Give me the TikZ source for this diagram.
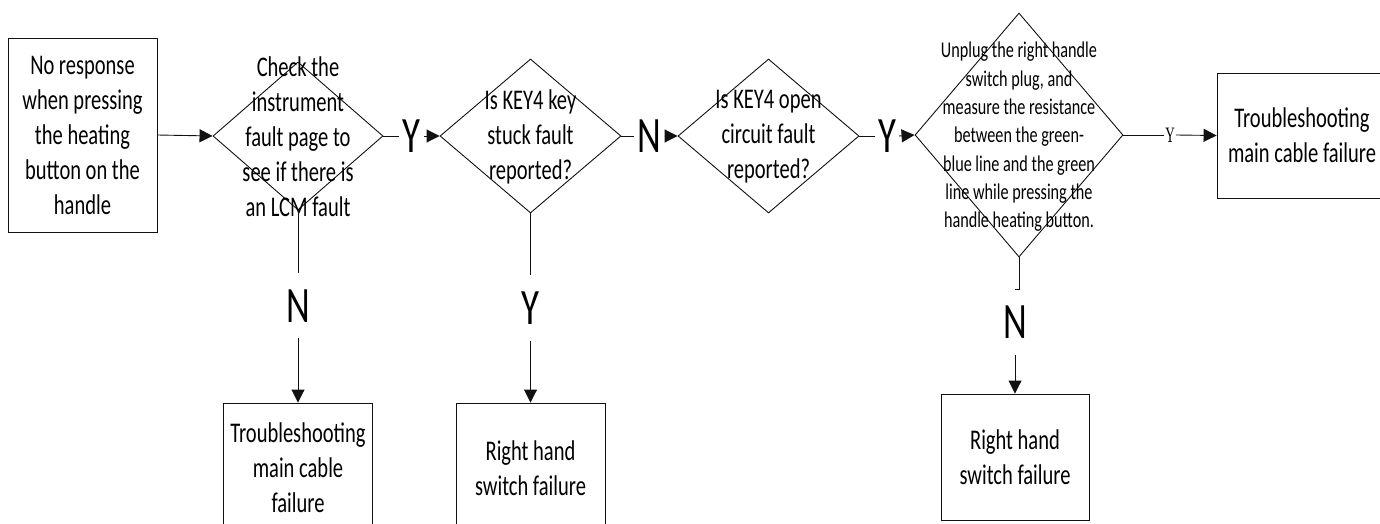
\documentclass[tikz,border=0pt]{standalone}
\usepackage{fontspec}
\usepackage{tikz}
\usetikzlibrary{arrows.meta,shapes.geometric}
\newfontfamily\flowfont{Carlito}[FakeStretch=0.72]
\newfontfamily\flowserif{Liberation Serif}[FakeStretch=0.6]
\definecolor{flowink}{HTML}{111111}
\tikzset{
  flow box/.style={draw=flowink,line width=.9pt,inner sep=2pt,align=center,font=\flowfont\fontsize{28.5}{35}\selectfont},
  flow decision/.style={diamond,draw=flowink,line width=.9pt,inner sep=0pt},
  flow text/.style={align=center,inner sep=0pt,font=\flowfont\fontsize{28.5}{35}\selectfont},
  flow note/.style={align=center,inner sep=0pt,font=\flowfont\fontsize{22.5}{28.3}\selectfont},
  flow tag/.style={inner xsep=3pt,inner ysep=0pt,text height=49pt,text depth=16pt,font=\flowfont\fontsize{51}{51}\selectfont},
  flow small tag/.style={inner xsep=1pt,inner ysep=0pt,font=\flowserif\fontsize{22}{22}\selectfont},
  flow line/.style={draw=flowink,line width=.9pt},
  flow arrow/.style={flow line,-{Triangle[length=13pt,width=13pt]}}
}

\begin{document}
\begin{tikzpicture}[x=1pt,y=-1pt]
  \useasboundingbox (0,0) rectangle (1380,524);
  \node[flow box,minimum width=149pt,minimum height=194pt] (start) at (82.5,135) {No response\\when pressing\\the heating\\button on the\\handle};
  \node[flow decision,minimum width=170pt,minimum height=148pt] (d1) at (298,136) {};
  \node[flow text] (d1t) at (298,137) {Check the\\instrument\\fault page to\\see if there is\\an LCM fault};
  \node[flow decision,minimum width=181pt,minimum height=154pt] (d2) at (530.5,136) {};
  \node[flow text] (d2t) at (530.5,137) {Is KEY4 key\\stuck fault\\reported?};
  \node[flow decision,minimum width=181pt,minimum height=154pt] (d3) at (768.5,136) {};
  \node[flow text] (d3t) at (768.5,137) {Is KEY4 open\\circuit fault\\reported?};
  \node[flow decision,minimum width=208pt,minimum height=244pt] (d4) at (1019,135) {};
  \node[flow note] (d4t) at (1019,137) {Unplug the right handle\\switch plug, and\\measure the resistance\\between the green-\\blue line and the green\\line while pressing the\\handle heating button.};
  \node[flow box,minimum width=170pt,minimum height=125pt] (b4) at (1302,135.5) {Troubleshooting\\main cable failure};
  \node[flow box,minimum width=149pt,minimum height=130pt] (b1) at (298,468) {Troubleshooting\\main cable\\failure};
  \node[flow box,minimum width=149pt,minimum height=130pt] (b2) at (530.5,468) {Right hand\\switch failure};
  \node[flow box,minimum width=148pt,minimum height=126pt] (b3) at (1015,457) {Right hand\\switch failure};

  \node[flow tag] (ty1) at (411.5,136) {Y};
  \node[flow tag] (tn2) at (649.5,136) {N};
  \node[flow tag] (ty3) at (887,136) {Y};
  \node[flow small tag] (ty4) at (1170,135) {Y};
  \node[flow tag] (tn1) at (298,305.5) {N};
  \node[flow tag] (ty2) at (530.5,308) {Y};
  \node[flow tag] (tn4) at (1015,322) {N};

  \draw[flow arrow] (start.east) -- (d1.west);
  \foreach \a/\t/\b in {d1/ty1/d2,d2/tn2/d3,d3/ty3/d4,d4/ty4/b4}{
    \draw[flow line] (\a.east) -- (\t.west);
    \draw[flow arrow] (\t.east) -- (\b.west);
  }
  \draw[flow line] (d1.south) -- (tn1.north);
  \draw[flow arrow] (tn1.south) -- (b1.north);
  \draw[flow line] (d2.south) -- (ty2.north);
  \draw[flow arrow] (ty2.south) -- (b2.north);
  \draw[flow line] (d4.south) |- (tn4.north);
  \draw[flow arrow] (tn4.south) -- (b3.north);
\end{tikzpicture}
\end{document}
